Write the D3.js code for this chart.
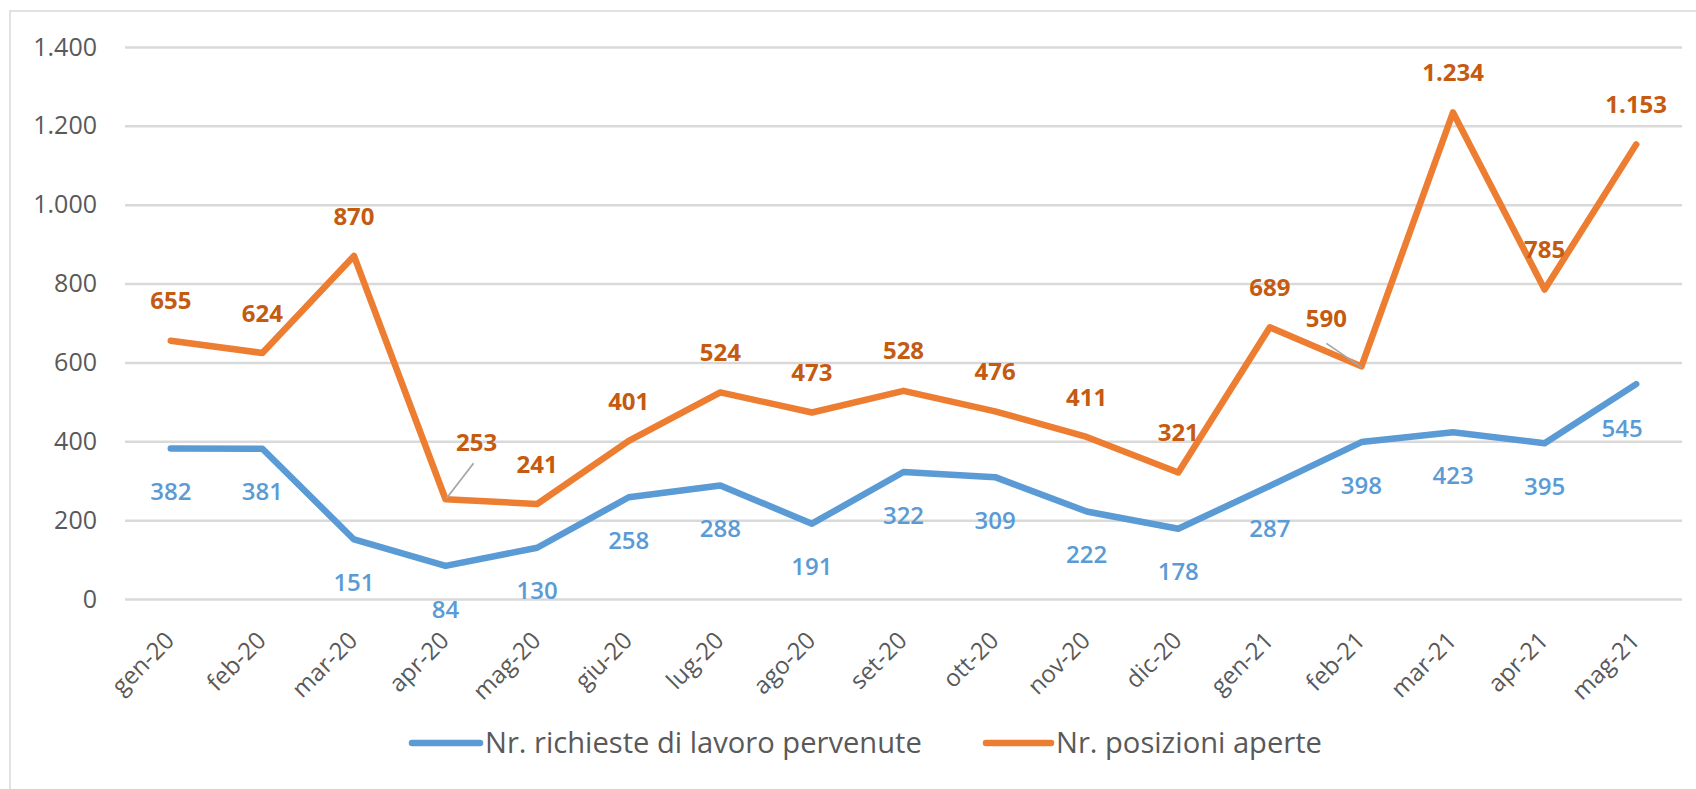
<!DOCTYPE html>
<html>
<head>
<meta charset="utf-8">
<script src="https://cdn.jsdelivr.net/npm/d3@7"></script>
<style>
  html, body { margin: 0; padding: 0; background: #ffffff; }
  svg { display: block; font-family: "Open Sans", "Noto Sans", sans-serif; }
</style>
</head>
<body>
<svg id="chart" width="1696" height="789"></svg>
<script>
// ---- data ----
const categories = ["gen-20","feb-20","mar-20","apr-20","mag-20","giu-20","lug-20","ago-20","set-20","ott-20","nov-20","dic-20","gen-21","feb-21","mar-21","apr-21","mag-21"];
const richieste = [382,381,151,84,130,258,288,191,322,309,222,178,287,398,423,395,545];
const posizioni = [655,624,870,253,241,401,524,473,528,476,411,321,689,590,1234,785,1153];
const yTicks = [0,200,400,600,800,1000,1200,1400];
const seriesNames = ["Nr. richieste di lavoro pervenute","Nr. posizioni aperte"];

// ---- layout / style ----
const W = 1696, H = 789;
const plot = { left: 125, right: 1682, top: 47, bottom: 599 };
const colors = { blue: "#5b9bd5", orange: "#ed7d31", orangeLabel: "#c55a11", blueLabel: "#5b9bd5", axisText: "#595959", grid: "#d9d9d9" };

const it = d3.formatLocale({ decimal: ",", thousands: ".", grouping: [3], currency: ["€", ""] });
const fmt = it.format(",d");

const svg = d3.select("#chart");

// outer chart border (only left/top visible in reference)
svg.append("rect")
  .attr("x", 10).attr("y", 11).attr("width", 1720).attr("height", 820)
  .attr("fill", "none").attr("stroke", colors.grid).attr("stroke-width", 1.5);

const x = d3.scaleBand().domain(categories).range([plot.left, plot.right]).padding(0);
const y = d3.scaleLinear().domain([0, 1400]).range([plot.bottom, plot.top]);
const cx = d => x(d) + x.bandwidth() / 2;

// gridlines + y axis labels via axis
const yAxis = d3.axisLeft(y).tickValues(yTicks).tickFormat(fmt)
  .tickSize(-(plot.right - plot.left)).tickPadding(28);
const gY = svg.append("g").attr("transform", `translate(${plot.left},0)`).call(yAxis);
gY.select(".domain").remove();
gY.selectAll(".tick line").attr("stroke", colors.grid).attr("stroke-width", 2.5);
gY.selectAll(".tick text")
  .attr("fill", colors.axisText).attr("font-size", 25)
  .attr("font-family", "'Open Sans', sans-serif");

// x axis labels via axis
const xAxis = d3.axisBottom(x).tickSize(0).tickPadding(0);
const gX = svg.append("g").attr("transform", `translate(0,${plot.bottom})`).call(xAxis);
gX.select(".domain").remove();
gX.selectAll(".tick text")
  .attr("fill", colors.axisText).attr("font-size", 24)
  .attr("font-family", "'Open Sans', sans-serif")
  .attr("text-anchor", "end")
  .attr("dy", null).attr("y", null)
  .attr("transform", "translate(5,43) rotate(-45)");

// lines
const line = d3.line().x((d, i) => cx(categories[i])).y(d => y(d));
svg.append("path").datum(richieste)
  .attr("fill", "none").attr("stroke", colors.blue).attr("stroke-width", 6.5)
  .attr("stroke-linejoin", "round").attr("stroke-linecap", "round")
  .attr("d", line);
svg.append("path").datum(posizioni)
  .attr("fill", "none").attr("stroke", colors.orange).attr("stroke-width", 6.5)
  .attr("stroke-linejoin", "round").attr("stroke-linecap", "round")
  .attr("d", line);

// label placement tweaks (layout only)
const orangeAdjust = { 3: { dx: 31, dy: -57, leader: [[28, -36], [1, -1]] },
                       13: { dx: -35, dy: -48, leader: [[-35, -23], [0, 1]] } };
const blueAdjust = { 16: { dx: -14, dy: 44 } };

// leader lines
posizioni.forEach((v, i) => {
  const a = orangeAdjust[i];
  if (a && a.leader) {
    const px = cx(categories[i]), py = y(v);
    svg.append("line")
      .attr("x1", px + a.leader[0][0]).attr("y1", py + a.leader[0][1])
      .attr("x2", px + a.leader[1][0]).attr("y2", py + a.leader[1][1])
      .attr("stroke", "#a6a6a6").attr("stroke-width", 1.8);
  }
});

// data labels
svg.append("g").selectAll("text").data(posizioni).join("text")
  .attr("x", (d, i) => cx(categories[i]) + ((orangeAdjust[i] && orangeAdjust[i].dx) || 0))
  .attr("y", (d, i) => y(d) + ((orangeAdjust[i] && orangeAdjust[i].dy) || -40))
  .attr("dy", "0.36em")
  .attr("text-anchor", "middle")
  .attr("font-size", 24).attr("font-weight", "bold")
  .attr("fill", colors.orangeLabel)
  .text(d => fmt(d));

svg.append("g").selectAll("text").data(richieste).join("text")
  .attr("x", (d, i) => cx(categories[i]) + ((blueAdjust[i] && blueAdjust[i].dx) || 0))
  .attr("y", (d, i) => y(d) + ((blueAdjust[i] && blueAdjust[i].dy) || 43))
  .attr("dy", "0.36em")
  .attr("text-anchor", "middle")
  .attr("font-size", 24).attr("font-weight", 600)
  .attr("fill", colors.blueLabel)
  .text(d => fmt(d));

// legend
const legendY = 743;
const legendItems = [
  { name: seriesNames[0], color: colors.blue, x0: 412, x1: 480, tx: 485, target: 437 },
  { name: seriesNames[1], color: colors.orange, x0: 986, x1: 1051, tx: 1056, target: 266 }
];
legendItems.forEach(it2 => {
  svg.append("line")
    .attr("x1", it2.x0).attr("x2", it2.x1).attr("y1", legendY).attr("y2", legendY)
    .attr("stroke", it2.color).attr("stroke-width", 6.5).attr("stroke-linecap", "round");
  const t = svg.append("text")
    .attr("x", it2.tx).attr("y", legendY).attr("dy", "0.36em")
    .attr("font-size", 24).attr("fill", colors.axisText)
    .text(it2.name);
  const len = t.node().getComputedTextLength();
  t.attr("font-size", 24 * it2.target / len);
});
</script>
</body>
</html>
